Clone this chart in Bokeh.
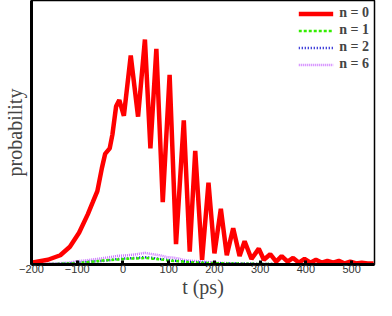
from bokeh.plotting import figure
from bokeh.models import FixedTicker, Legend, LegendItem, Range1d, LinearAxis
from bokeh.embed import file_html
from bokeh.resources import INLINE

# ---- data ----
x_ticks = [-200, -100, 0, 100, 200, 300, 400, 500]

t_n0 = [-200, -164, -137, -116, -96, -77, -66, -56, -46, -39, -29, -23, -15, -8, 2, 17, 33, 48, 60,
        73, 87, 102, 116, 133, 146, 158, 173, 187, 200, 214, 227, 241, 255, 266, 281, 297, 308, 322,
        335, 347, 360, 372, 385, 397, 410, 422, 435, 447, 460, 472, 485, 497, 510, 522, 535, 548]
p_n0 = [0.007, 0.018, 0.035, 0.067, 0.120, 0.190, 0.236, 0.278, 0.366, 0.419, 0.440, 0.493, 0.599,
        0.623, 0.563, 0.792, 0.560, 0.852, 0.440, 0.817, 0.236, 0.718, 0.077, 0.546, 0.049, 0.430,
        0.018, 0.310, 0.042, 0.211, 0.035, 0.137, 0.032, 0.088, 0.021, 0.060, 0.018, 0.039, 0.011,
        0.032, 0.011, 0.025, 0.007, 0.021, 0.007, 0.018, 0.007, 0.014, 0.007, 0.014, 0.004, 0.011,
        0.004, 0.007, 0.004, 0.004]

t_n1 = [-200, -150, -100, -70, -40, -10, 10, 30, 48, 65, 80, 96, 115, 131, 150, 200, 300, 400, 550]
p_n1 = [0.0, 0.002, 0.005, 0.010, 0.016, 0.019, 0.022, 0.023, 0.025, 0.022, 0.020, 0.016, 0.013,
        0.011, 0.008, 0.005, 0.002, 0.0, 0.0]

t_n2 = [-200, -150, -100, -70, -40, -10, 10, 30, 48, 65, 80, 96, 115, 131, 150, 200, 300, 400, 550]
p_n2 = [0.0, 0.002, 0.006, 0.011, 0.014, 0.021, 0.023, 0.025, 0.028, 0.025, 0.021, 0.018, 0.014,
        0.012, 0.009, 0.005, 0.002, 0.0, 0.0]

t_n6 = [-200, -150, -120, -100, -70, -40, -10, 10, 30, 48, 65, 80, 96, 115, 131, 150, 175, 200,
        250, 300, 400, 550]
p_n6 = [0.0, 0.004, 0.007, 0.012, 0.018, 0.025, 0.033, 0.035, 0.039, 0.044, 0.039, 0.035, 0.028,
        0.025, 0.018, 0.014, 0.011, 0.007, 0.004, 0.002, 0.0, 0.0]

labels = ["n = 0", "n = 1", "n = 2", "n = 6"]

# ---- figure ----
p = figure(width=376, height=300, output_backend="svg", toolbar_location=None,
           x_range=Range1d(-200, 550), y_range=Range1d(0, 1),
           y_axis_location=None,
           min_border_left=0, min_border_right=2, min_border_top=0, min_border_bottom=0)
p.grid.visible = False
p.outline_line_color = "black"
p.outline_line_width = 1.5
p.background_fill_color = "white"

r6 = p.line(t_n6, p_n6, line_color="#cc77ff", line_width=2.5, line_dash="1 1")
r2 = p.line(t_n2, p_n2, line_color="#0000cc", line_width=2.5, line_dash="1 2")
r1 = p.line(t_n1, p_n1, line_color="#33ee00", line_width=2.5, line_dash="3 2")
r0 = p.line(t_n0, p_n0, line_color="#ff0000", line_width=4.5)

# bottom axis
xa = p.xaxis[0]
xa.ticker = FixedTicker(ticks=x_ticks)
xa.minor_tick_line_color = None
xa.major_tick_in = 4
xa.major_tick_out = 0
xa.major_tick_line_width = 3
xa.axis_line_width = 3
xa.major_label_standoff = 0
xa.major_label_text_font = "Liberation Sans"
xa.major_label_text_font_size = "11px"
xa.major_label_text_color = "#333333"
xa.axis_label = "t (ps)"
xa.axis_label_text_font = "Liberation Serif"
xa.axis_label_text_font_style = "normal"
xa.axis_label_text_font_size = "20px"
xa.axis_label_standoff = 0

# left axis: a plain thick line, no ticks, with the label
ya = LinearAxis(ticker=FixedTicker(ticks=[]), minor_tick_line_color=None,
                major_tick_out=0, major_tick_in=0, axis_line_width=3,
                axis_label="probability", axis_label_text_font="Liberation Serif",
                axis_label_text_font_style="normal", axis_label_text_font_size="20px",
                axis_label_standoff=6)
p.add_layout(ya, "left")

legend = Legend(items=[LegendItem(label=labels[0], renderers=[r0]),
                       LegendItem(label=labels[1], renderers=[r1]),
                       LegendItem(label=labels[2], renderers=[r2]),
                       LegendItem(label=labels[3], renderers=[r6])],
                location="top_right", background_fill_alpha=0, border_line_alpha=0,
                label_text_font="Liberation Serif", label_text_font_style="bold",
                label_text_font_size="14px", glyph_width=35, glyph_height=11,
                label_height=11, spacing=1, padding=2, margin=3, label_standoff=6)
p.add_layout(legend)

open("out.html", "w").write(file_html(p, INLINE))
